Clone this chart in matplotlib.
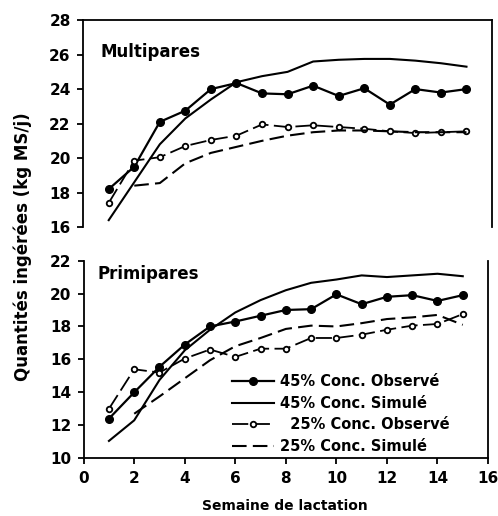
import numpy as np
import matplotlib
matplotlib.use("Agg")
import matplotlib.pyplot as plt

plt.rcParams['font.family'] = ['DejaVu Sans']
plt.rcParams['font.weight'] = 'bold'

semaines = np.arange(1, 16)

# Multipares
multi_45_obs = [18.2, 19.5, 22.1, 22.75, 24.0, 24.35, 23.75, 23.7, 24.2, 23.6, 24.05, 23.1, 24.0, 23.8, 24.0]
multi_45_sim = [16.4, 18.6, 20.8, 22.3, 23.4, 24.4, 24.75, 25.0, 25.6, 25.7, 25.75, 25.75, 25.65, 25.5, 25.3]
multi_25_obs = [17.4, 19.85, 20.05, 20.7, 21.05, 21.3, 21.95, 21.8, 21.9, 21.8, 21.7, 21.55, 21.45, 21.5, 21.55]
multi_25_sim = [np.nan, 18.4, 18.55, 19.7, 20.3, 20.65, 21.0, 21.3, 21.5, 21.6, 21.6, 21.55, 21.5, 21.5, 21.5]

# Primipares
primi_45_obs = [12.4, 14.0, 15.55, 16.9, 18.0, 18.3, 18.65, 19.0, 19.05, 19.95, 19.35, 19.8, 19.9, 19.55, 19.9]
primi_45_sim = [11.05, 12.3, 14.75, 16.55, 17.8, 18.85, 19.6, 20.2, 20.65, 20.85, 21.1, 21.0, 21.1, 21.2, 21.05]
primi_25_obs = [13.0, 15.4, 15.2, 16.05, 16.6, 16.15, 16.65, 16.65, 17.3, 17.3, 17.5, 17.8, 18.05, 18.15, 18.75]
primi_25_sim = [np.nan, 12.7, 13.75, 14.85, 15.95, 16.8, 17.3, 17.85, 18.05, 18.0, 18.2, 18.45, 18.55, 18.7, 18.1]

labels = ['45% Conc. Observé', '45% Conc. Simulé', '  25% Conc. Observé', '25% Conc. Simulé']

fig = plt.figure(figsize=(4.98, 5.16), dpi=100)
ax1 = fig.add_axes([0.167, 0.560, 0.821, 0.401])
ax2 = fig.add_axes([0.168, 0.112, 0.812, 0.383])


def draw(ax, obs45, sim45, obs25, sim25):
    ax.plot(semaines, obs45, color='black', lw=1.6, marker='o', ms=5.5,
            mfc='black', mec='black', label=labels[0])
    ax.plot(semaines, sim45, color='black', lw=1.5, label=labels[1])
    ax.plot(semaines, obs25, color='black', lw=1.3, dashes=(9, 3), marker='o', ms=4,
            mfc='white', mec='black', mew=1.3, label=labels[2])
    ax.plot(semaines, sim25, color='black', lw=1.5, dashes=(7, 3), label=labels[3])
    ax.set_xlim(0, 16)
    for s in ax.spines.values():
        s.set_linewidth(1.3)
    ax.tick_params(axis='both', labelsize=11, width=1.3, length=4, direction='out', pad=5)


draw(ax1, multi_45_obs, multi_45_sim, multi_25_obs, multi_25_sim)
ax1.set_ylim(16, 28)
ax1.set_yticks(range(16, 29, 2))
ax1.spines['bottom'].set_visible(False)
ax1.set_xticks([])
ax1.text(0.042, 0.82, 'Multipares', transform=ax1.transAxes, fontsize=12, fontweight='bold')

draw(ax2, primi_45_obs, primi_45_sim, primi_25_obs, primi_25_sim)
ax2.set_ylim(10, 22)
ax2.set_yticks(range(10, 23, 2))
ax2.set_xticks(range(0, 17, 2))
ax2.spines['top'].set_visible(False)
ax2.text(0.035, 0.905, 'Primipares', transform=ax2.transAxes, fontsize=12, fontweight='bold')
ax2.legend(loc='lower left', bbox_to_anchor=(0.355, 0.0), frameon=False,
           prop={'size': 10.5, 'weight': 'bold'}, handlelength=2.9,
           labelspacing=0.45, handletextpad=0.45, borderaxespad=0.0, borderpad=0.3)

fig.text(0.045, 0.521, 'Quantités ingérées (kg MS/j)', rotation=90, ha='center', va='center',
         fontsize=12, fontweight='bold')
fig.text(0.572, 0.006, 'Semaine de lactation', ha='center', va='bottom',
         fontsize=10, fontweight='bold')

fig.savefig('out.png', dpi=100)
